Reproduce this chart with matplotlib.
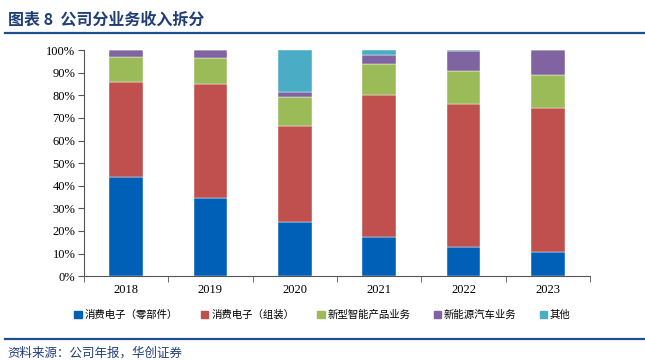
import numpy as np
import matplotlib.pyplot as plt
from matplotlib.lines import Line2D

plt.rcParams['font.family'] = ['Noto Sans CJK SC', 'DejaVu Sans']

years = ['2018', '2019', '2020', '2021', '2022', '2023']
series_names = ['消费电子（零部件）', '消费电子（组装）', '新型智能产品业务', '新能源汽车业务', '其他']
parts = [43.8, 34.6, 24.0, 17.4, 13.0, 10.5]
assembly = [42.0, 50.5, 42.4, 62.6, 63.4, 64.0]
smart = [11.0, 11.5, 12.8, 14.0, 14.2, 14.3]
ev = [3.2, 3.4, 2.4, 4.0, 8.9, 11.2]
other = [0.0, 0.0, 18.4, 2.0, 0.5, 0.0]
colors = ['#0060B8', '#C0504D', '#9BBB59', '#8064A2', '#4BACC6']

fig = plt.figure(figsize=(6.45, 3.61), dpi=100)
ax = fig.add_axes([0.130, 0.235, 0.785, 0.626])

x = np.arange(len(years))
bottom = np.zeros(len(years))
for vals, name, c in zip([parts, assembly, smart, ev, other], series_names, colors):
    ax.bar(x, vals, width=0.4, bottom=bottom, color=c, label=name,
           edgecolor='white', linewidth=0.3)
    bottom += np.array(vals)

ax.set_xlim(-0.5, len(years) - 0.5)
ax.set_ylim(0, 100)
ax.set_yticks(range(0, 101, 10))
ax.set_yticklabels([f'{v}%' for v in range(0, 101, 10)],
                   fontfamily='Liberation Serif', fontsize=9)
ax.set_xticks(x)
ax.set_xticklabels(years, fontfamily='Liberation Serif', fontsize=9)
ax.set_xticks(np.arange(-0.5, len(years), 1), minor=True)
ax.tick_params(axis='x', which='major', length=0, pad=6)
ax.tick_params(axis='x', which='minor', length=4, direction='out', color='#555555')
ax.tick_params(axis='y', length=4, direction='out', color='#555555', pad=2)
for s in ['top', 'right']:
    ax.spines[s].set_visible(False)
for s in ['left', 'bottom']:
    ax.spines[s].set_color('#555555')
    ax.spines[s].set_linewidth(0.8)

handles = [plt.Rectangle((0, 0), 1, 1, color=c) for c in colors]
fig.legend(handles, series_names, loc='center', bbox_to_anchor=(0.5, 0.128),
           ncol=5, frameon=False, fontsize=7.5, handlelength=0.7, handleheight=0.7,
           handletextpad=0.3, columnspacing=2.2)

fig.text(0.012, 0.945, '图表 8  公司分业务收入拆分', fontsize=11.5, fontweight='bold',
         color='#1F3E78', va='center', ha='left')
fig.add_artist(Line2D([0.008, 1.0], [0.909, 0.909], color='#1F4E8C', linewidth=1.6))
fig.add_artist(Line2D([0.008, 1.0], [0.061, 0.061], color='#1F4E8C', linewidth=1.6))
fig.text(0.012, 0.022, '资料来源：公司年报，华创证券', fontsize=9, style='italic',
         color='#1F3E78', va='center', ha='left')

fig.savefig('out.png', dpi=100)
